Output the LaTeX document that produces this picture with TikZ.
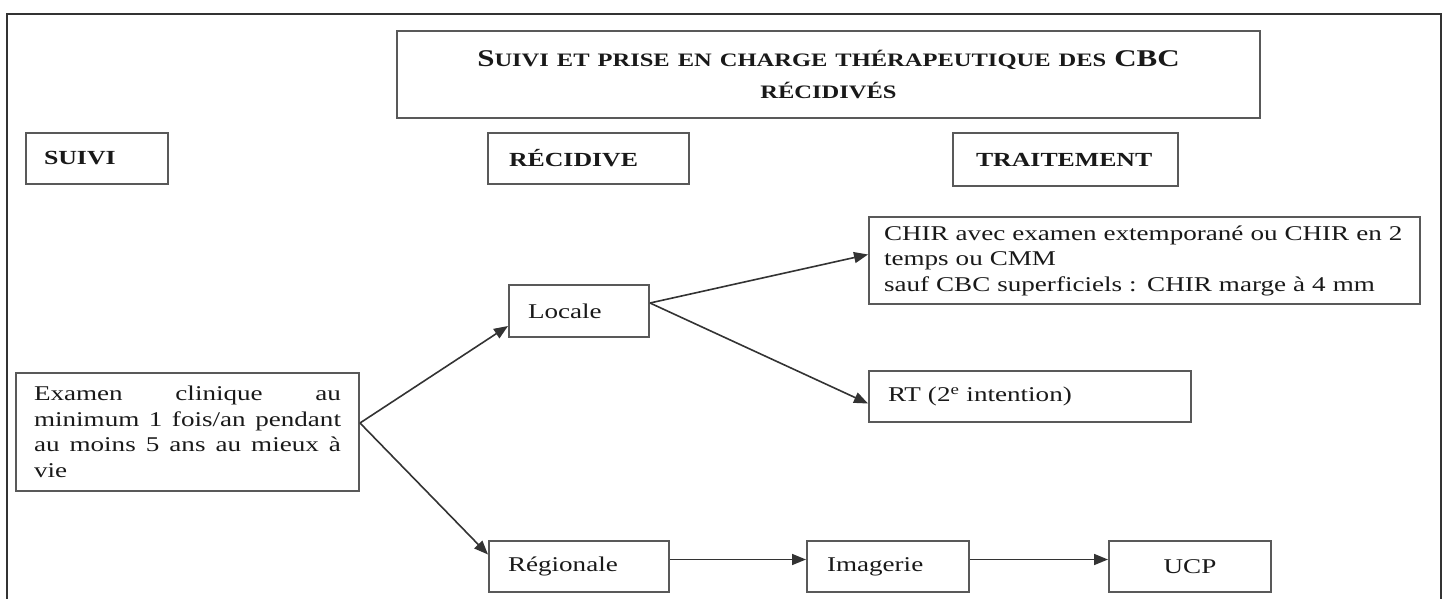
\documentclass[tikz,border=0pt]{standalone}
\usepackage{fontspec}
\setmainfont{Liberation Serif}[FakeStretch=1.29]
\usetikzlibrary{arrows.meta}
\begin{document}
\begin{tikzpicture}[x=1pt,y=-1pt,
  box/.style={draw=black!65, line width=2pt, rectangle, anchor=north west, inner ysep=0pt,
    text=black!90, font=\fontsize{21}{25.5}\selectfont, align=left},
  hdr/.style={box, font=\fontsize{20}{24}\selectfont\bfseries},
  conn/.style={draw=black!80, line width=1.6pt, -{Triangle[length=14pt,width=11pt]}}
]
\useasboundingbox (0,0) rectangle (1442,599);
\draw[black!80, line width=1.5pt] (7,599) -- (7,14) -- (1441,14) -- (1441,599);

\node[box, minimum width=863pt, minimum height=87pt, text width=863pt, inner xsep=0pt,
  align=center, font=\fontsize{24}{32}\selectfont\bfseries] (title) at (396,30)
  {S{\fontsize{19}{32}\selectfont UIVI ET PRISE EN CHARGE THÉRAPEUTIQUE DES} CBC\\{\fontsize{19}{32}\selectfont RÉCIDIVÉS}};

\node[hdr, minimum height=51pt, text width=106pt, inner xsep=18pt] (suivi) at (25,132) {SUIVI};
\node[hdr, minimum height=51pt, text width=159pt, inner xsep=21pt] (recid) at (487,132) {RÉCIDIVE};
\node[hdr, minimum height=53pt, text width=179pt, inner xsep=23pt] (trait) at (952,132) {TRAITEMENT};

\node[box, minimum height=87pt, text width=521pt, inner xsep=15pt] (chir) at (868,216)
  {\mbox{CHIR avec examen extemporané ou CHIR en 2}\\temps ou CMM\\\mbox{sauf CBC superficiels : CHIR marge à 4 mm}};
\node[box, minimum height=52pt, text width=102pt, inner xsep=19pt] (locale) at (508,284) {Locale};
\node[box, minimum height=51pt, text width=284pt, inner xsep=19pt] (rt) at (868,370) {RT (2\textsuperscript{e} intention)};
\node[box, minimum height=118pt, text width=307pt, inner xsep=18pt] (exam) at (15,372)
  {\makebox[307pt][s]{Examen\hfill clinique\hfill au}\\\makebox[307pt][s]{minimum\hfill 1\hfill fois/an\hfill pendant}\\\makebox[307pt][s]{au\hfill moins\hfill 5\hfill ans\hfill au\hfill mieux\hfill à}\\vie};
\node[box, minimum height=51pt, text width=142pt, inner xsep=19pt] (region) at (488,540) {Régionale};
\node[box, minimum height=51pt, text width=122pt, inner xsep=20pt] (imag) at (806,540) {Imagerie};
\node[box, minimum height=51pt, text width=122pt, inner xsep=20pt, align=center] (ucp) at (1108,540) {UCP};

\draw[conn] ([yshift=9pt]exam.east) -- ([yshift=-15pt]locale.west);
\draw[conn] ([yshift=9pt]exam.east) -- ([yshift=12pt]region.west);
\draw[conn] ([yshift=8pt]locale.east) -- ([yshift=6pt]chir.west);
\draw[conn] ([yshift=8pt]locale.east) -- ([yshift=-7pt]rt.west);
\draw[conn] ([yshift=7pt]region.east) -- ([yshift=7pt]imag.west);
\draw[conn] ([yshift=7pt]imag.east) -- ([yshift=7pt]ucp.west);
\end{tikzpicture}
\end{document}
